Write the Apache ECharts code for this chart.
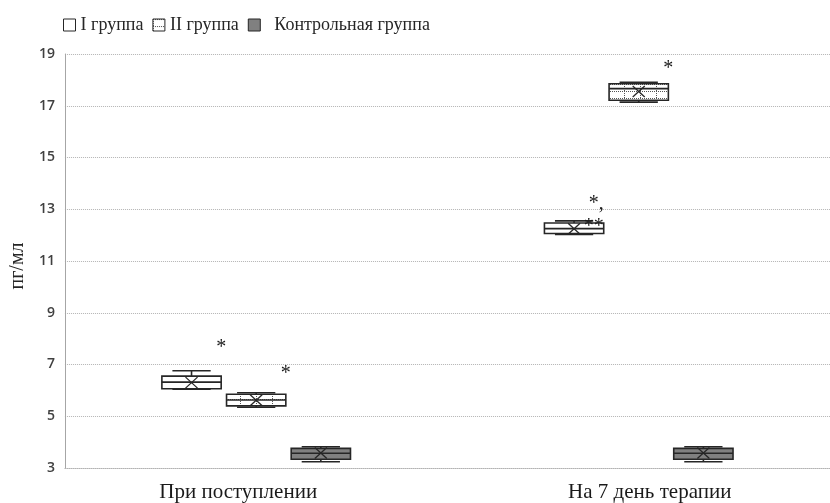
<!DOCTYPE html>
<html><head><meta charset="utf-8">
<script src="https://cdn.jsdelivr.net/npm/echarts@6/dist/echarts.min.js"></script>
<style>html,body{margin:0;padding:0;background:#fff}#c{width:830px;height:503px}</style>
</head><body><div id="c"></div>
<script>
const categories = ['При поступлении', 'На 7 день терапии'];
const groupNames = ['I группа', 'II группа', 'Контрольная группа'];
// [min, q1, median, q3, max] per category
const group1Box = [[6.05, 6.06, 6.32, 6.55, 6.76], [12.03, 12.06, 12.25, 12.47, 12.55]];
const group2Box = [[5.35, 5.40, 5.63, 5.85, 5.91], [17.14, 17.21, 17.66, 17.85, 17.91]];
const controlBox = [[3.24, 3.34, 3.57, 3.76, 3.82], [3.24, 3.34, 3.57, 3.76, 3.82]];
const group1Mean = [6.30, 12.25];
const group2Mean = [5.62, 17.55];
const controlMean = [3.58, 3.58];
const yMin = 3, yMax = 19, yStep = 2;
// significance marks: [categoryIndex, groupIndex, value, text]
const annotations = [
  [0, 0, 7.79, '*'],
  [0, 1, 6.79, '*'],
  [1, 0, 13.36, '*,'],
  [1, 0, 12.47, '**'],
  [1, 1, 18.57, '*']
];

function makePattern() {
  const c = document.createElement('canvas');
  c.width = 16; c.height = 7;
  const ctx = c.getContext('2d');
  ctx.fillStyle = '#fff'; ctx.fillRect(0, 0, 16, 7);
  ctx.fillStyle = '#555';
  for (let x = 0; x < 16; x += 2) ctx.fillRect(x, 0, 1, 1);
  for (let y = 0; y < 7; y += 2) ctx.fillRect(0, y, 1, 1);
  return c;
}
const pattern = { image: makePattern(), repeat: 'repeat' };
const fills = ['#ffffff', pattern, '#808080'];
const stroke = '#262626';
const boxes = [group1Box, group2Box, controlBox];
const means = [group1Mean, group2Mean, controlMean];

const OFFSET = 0.169, WIDTH = 0.155, CAP = 0.05;

function renderBox(gi) {
  return function (params, api) {
    const cat = api.value(0);
    const band = api.size([1, 0])[0];
    const cx = api.coord([cat, 0])[0] + (gi - 1) * band * OFFSET;
    const w = band * WIDTH;
    const cap = band * CAP;
    const y = i => api.coord([cat, api.value(i)])[1];
    const pMin = y(1), pQ1 = y(2), pMed = y(3), pQ3 = y(4), pMax = y(5), pMean = y(6);
    const ls = { stroke: stroke, lineWidth: 1.6 };
    const xs = 6, ys = 5.5;
    return {
      type: 'group',
      children: [
        { type: 'line', shape: { x1: cx, y1: pQ3, x2: cx, y2: pMax }, style: ls },
        { type: 'line', shape: { x1: cx - cap, y1: pMax, x2: cx + cap, y2: pMax }, style: ls },
        { type: 'line', shape: { x1: cx, y1: pQ1, x2: cx, y2: pMin }, style: ls },
        { type: 'line', shape: { x1: cx - cap, y1: pMin, x2: cx + cap, y2: pMin }, style: ls },
        { type: 'rect', shape: { x: cx - w / 2, y: pQ3, width: w, height: pQ1 - pQ3 },
          style: { fill: fills[gi], stroke: stroke, lineWidth: 1.6 } },
        { type: 'line', shape: { x1: cx - w / 2, y1: pMed, x2: cx + w / 2, y2: pMed }, style: ls },
        { type: 'line', shape: { x1: cx - xs, y1: pMean - ys, x2: cx + xs, y2: pMean + ys }, style: { stroke: stroke, lineWidth: 1.3 } },
        { type: 'line', shape: { x1: cx - xs, y1: pMean + ys, x2: cx + xs, y2: pMean - ys }, style: { stroke: stroke, lineWidth: 1.3 } }
      ]
    };
  };
}

const series = groupNames.map((name, gi) => ({
  name: name,
  type: 'custom',
  renderItem: renderBox(gi),
  itemStyle: { color: fills[gi], borderColor: stroke, borderWidth: 1 },
  encode: { x: 0, y: [1, 2, 3, 4, 5, 6] },
  data: boxes[gi].map((b, ci) => [ci].concat(b, [means[gi][ci]]))
}));

series.push({
  name: 'marks',
  type: 'custom',
  encode: { x: 0, y: 2 },
  data: annotations.map(a => [a[0], a[1], a[2]]),
  renderItem: function (params, api) {
    const a = annotations[params.dataIndex];
    const cat = api.value(0), gi = api.value(1);
    const band = api.size([1, 0])[0];
    const cx = api.coord([cat, 0])[0] + (gi - 1) * band * OFFSET + band * WIDTH / 2;
    const fs = 20;
    const py = api.coord([cat, api.value(2)])[1] + fs * 0.17;
    return {
      type: 'text',
      x: cx, y: py,
      style: {
        text: a[3], fill: '#1a1a1a',
        font: fs + 'px "Liberation Serif", serif',
        align: a[3].length > 1 ? 'right' : 'center',
        verticalAlign: 'middle'
      }
    };
  }
});

const chart = echarts.init(document.getElementById('c'), null, { renderer: 'canvas' });
chart.setOption({
  animation: false,
  backgroundColor: '#fff',
  legend: {
    left: 63, top: 16,
    padding: 0,
    itemWidth: 12, itemHeight: 12, itemGap: 9,
    icon: 'rect',
    data: groupNames.map((n, gi) => ({ name: n, itemStyle: { color: fills[gi], borderColor: stroke, borderWidth: 1 } })),
    formatter: n => n === groupNames[2] ? '  ' + n : n,
    textStyle: { fontFamily: 'Liberation Serif', fontSize: 18, color: '#262626' }
  },
  grid: { left: 62, right: -4, top: 54, bottom: 35, containLabel: false },
  xAxis: {
    type: 'category',
    data: categories,
    boundaryGap: true,
    axisTick: { show: false },
    axisLine: { lineStyle: { color: '#b3b3b3', type: 'dotted' } },
    axisLabel: {
      margin: 14,
      formatter: (v, i) => i === 0 ? '{a|' + v + '}' : '{b|' + v + '}',
      rich: {
        a: { fontFamily: 'Liberation Serif', fontSize: 21, color: '#1a1a1a', padding: [0, 36, 0, 0] },
        b: { fontFamily: 'Liberation Serif', fontSize: 21, color: '#1a1a1a', padding: [0, 0, 0, 22] }
      }
    }
  },
  yAxis: {
    type: 'value',
    min: yMin, max: yMax, interval: yStep,
    name: 'пг/мл',
    nameLocation: 'middle',
    nameRotate: 90,
    nameGap: 30,
    nameTextStyle: { fontFamily: 'Liberation Serif', fontSize: 20, color: '#262626', padding: [0, 10, 0, 0] },
    axisLine: { show: true, lineStyle: { color: '#a6a6a6' } },
    axisTick: { show: false },
    axisLabel: { fontFamily: 'Open Sans', fontWeight: 600, fontSize: 14, color: '#404040', margin: 10 },
    splitLine: { lineStyle: { color: '#b3b3b3', type: 'dotted' } }
  },
  series: series
});
</script></body></html>
